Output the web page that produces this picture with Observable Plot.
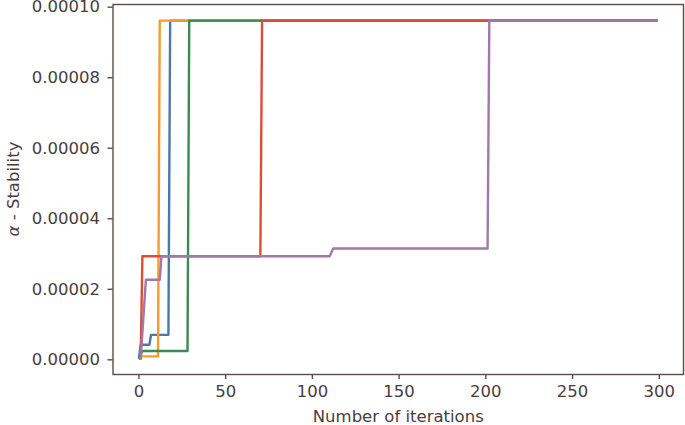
<!DOCTYPE html>
<html>
<head>
<meta charset="utf-8">
<script src="https://cdn.jsdelivr.net/npm/d3@7"></script>
<script src="https://cdn.jsdelivr.net/npm/@observablehq/plot@0.6"></script>
<style>
  html, body { margin: 0; padding: 0; background: #ffffff; }
  #chart { width: 685px; height: 425px; }
</style>
</head>
<body>
<div id="chart"></div>
<script>
// ---- data ----
const seriesNames = ["run1", "run2", "run3", "run4", "run5"];
const seriesColors = ["#4a78ab", "#f99a30", "#3b8a50", "#dc4d36", "#a179a7"];

const run1Iter = [0, 1, 6, 7, 17, 18, 299];
const run1Val  = [0, 0.0000040, 0.0000040, 0.0000068, 0.0000068, 0.0000959, 0.0000959];

const run2Iter = [0, 1, 11, 12, 299];
const run2Val  = [0, 0.0000007, 0.0000007, 0.0000959, 0.0000959];

const run3Iter = [0, 2, 28, 29, 299];
const run3Val  = [0, 0.0000022, 0.0000022, 0.0000959, 0.0000959];

const run4Iter = [0, 1, 2, 70, 71, 299];
const run4Val  = [0, 0, 0.0000291, 0.0000291, 0.0000959, 0.0000959];

const run5Iter = [0, 1, 4, 12, 13, 110, 112, 201, 202, 299];
const run5Val  = [0, 0, 0.0000224, 0.0000224, 0.0000291, 0.0000291, 0.0000313, 0.0000313, 0.0000959, 0.0000959];

const xTicks = [0, 50, 100, 150, 200, 250, 300];
const yTicks = [0, 0.00002, 0.00004, 0.00006, 0.00008, 0.0001];

const xLabel = "Number of iterations";
const yLabelSymbol = "α";
const yLabelRest = " - Stability";

// ---- build table ----
const iters = [run1Iter, run2Iter, run3Iter, run4Iter, run5Iter];
const vals = [run1Val, run2Val, run3Val, run4Val, run5Val];
const table = [];
seriesNames.forEach((name, k) => {
  iters[k].forEach((it, i) => table.push({series: name, iter: it, value: vals[k][i]}));
});

const textColor = "#4a3d3d";
const axisColor = "#5a4b4b";

const chart = Plot.plot({
  width: 685,
  height: 425,
  marginLeft: 112.5,
  marginRight: 2,
  marginTop: 4,
  marginBottom: 51,
  style: {fontFamily: "DejaVu Sans", fontSize: "16.5px", color: textColor, background: "#ffffff", overflow: "visible"},
  x: {domain: [-14.95, 313.95]},
  y: {domain: [-0.00000445, 0.00010048]},
  color: {domain: seriesNames, range: seriesColors},
  marks: [
    Plot.axisX({ticks: xTicks, tickSize: 5, tickPadding: 6, stroke: axisColor, strokeWidth: 1.4,
      label: xLabel, labelAnchor: "center", labelArrow: "none", labelOffset: 47}),
    Plot.axisY({ticks: yTicks, tickFormat: d => d.toFixed(5), tickSize: 5, tickPadding: 8, dy: 1,
      stroke: axisColor, strokeWidth: 1.4, label: null}),
    Plot.line(table, {x: "iter", y: "value", z: "series", stroke: "series", strokeWidth: 2.4,
      strokeLinejoin: "round", strokeLinecap: "butt"}),
    Plot.frame({stroke: axisColor, strokeWidth: 1.4})
  ]
});

document.getElementById("chart").appendChild(chart);

// y label with italic alpha
const svg = d3.select(chart);
const yl = svg.append("text")
  .attr("transform", "translate(12.5,189) rotate(-90)")
  .attr("text-anchor", "middle")
  .attr("dominant-baseline", "central")
  .attr("fill", textColor)
  .style("font-family", "DejaVu Sans")
  .style("font-size", "16.5px");
yl.append("tspan").style("font-style", "italic").text(yLabelSymbol);
yl.append("tspan").text(yLabelRest);
</script>
</body>
</html>
